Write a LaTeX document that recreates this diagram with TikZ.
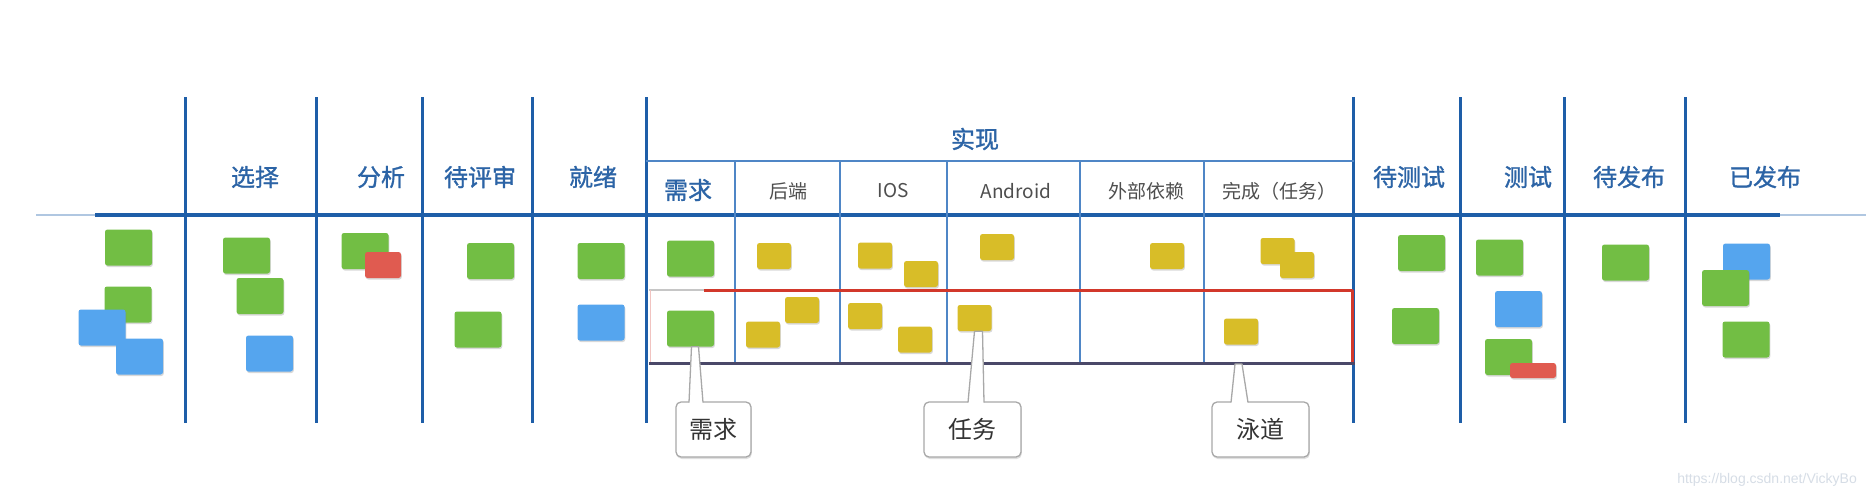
\documentclass[tikz,border=0pt]{standalone}
\usepackage{fontspec}
\newfontfamily\cjk{Noto Sans CJK SC}
\newfontfamily\cjkb[FakeBold=1.2]{Noto Sans CJK SC}
\setsansfont{Liberation Sans}
\usetikzlibrary{shadows,calc}
\definecolor{notegreen}{HTML}{72BE44}
\definecolor{noteblue}{HTML}{55A5EE}
\definecolor{noteyellow}{HTML}{D8BD28}
\definecolor{notered}{HTML}{E05B50}
\definecolor{headblue}{HTML}{2C64A6}
\definecolor{subgray}{HTML}{4E4E4E}
\definecolor{lineblue}{HTML}{1E5EA8}
\definecolor{subblue}{HTML}{4F86C6}
\definecolor{lanered}{HTML}{D2382B}
\definecolor{lanedark}{HTML}{4A4868}
\definecolor{calgray}{HTML}{A8A8A8}
\definecolor{caltext}{HTML}{333333}
\definecolor{wmgray}{HTML}{D6DDE6}
\tikzset{
  note/.style={rounded corners=2.5pt, inner sep=0pt, draw=none,
    drop shadow={shadow xshift=0.8pt, shadow yshift=-1.5pt, opacity=0.3}},
  gn/.style={note, fill=notegreen, minimum width=47pt, minimum height=36pt},
  bn/.style={note, fill=noteblue, minimum width=47pt, minimum height=36pt},
  yn/.style={note, fill=noteyellow, minimum width=34pt, minimum height=26pt},
  rn/.style={note, fill=notered, minimum width=36pt, minimum height=26pt},
  head/.style={font=\cjkb\fontsize{24}{28}\selectfont, text=headblue, inner sep=0pt},
  subhead/.style={font=\cjk\fontsize{19}{22}\selectfont, text=subgray, inner sep=0pt},
  callout/.style={draw=calgray, line width=1.3pt, fill=white, rounded corners=5pt,
    minimum height=55pt, inner sep=0pt, font=\cjk\fontsize{24}{28}\selectfont, text=caltext,
    drop shadow={shadow xshift=0.8pt, shadow yshift=-2pt, opacity=0.25}},
  vline/.style={draw=lineblue, line width=3pt},
  sline/.style={draw=subblue, line width=1.8pt},
  ptr/.style={draw=calgray, line width=1.3pt, fill=white, line join=round}
}
\begin{document}
\begin{tikzpicture}[x=1pt,y=-1pt]
\useasboundingbox (0,0) rectangle (1866,498);
\fill[white] (0,0) rectangle (1866,498);

% ---- grid lines ----
\foreach \x in {185,316.5,422,532,646,1353.5,1460,1564,1685.5}
  \draw[vline] (\x,97) -- (\x,423);
\draw[lineblue!35, line width=2.5pt] (36,215) -- (95,215);
\draw[lineblue, line width=3.5pt] (95,215) -- (1780,215);
\draw[lineblue!35, line width=2.5pt] (1780,215) -- (1866,215);
\draw[sline] (646,161) -- (1353.5,161);
\foreach \x in {735,840,947,1080,1204}
  \draw[sline] (\x,161) -- (\x,363);

% ---- swim lane ----
\draw[gray!45, line width=2.5pt] (649,290) -- (704,290);
\draw[lanered!30, line width=1pt] (650,290) -- (650,363);
\draw[lanered, line width=3pt, line join=round] (704,290) -- (1352,290) -- (1352,363);
\draw[lanedark, line width=3pt] (649,363) -- (1355,363);

% ---- headers ----
\node[head] (h1) at (255,177) {选择};
\node[head] (h2) at (381,177) {分析};
\node[head] (h3) at (480,177) {待评审};
\node[head] (h4) at (593,177) {就绪};
\node[head] (h5) at (975,139) {实现};
\node[head] (h6) at (1409,177) {待测试};
\node[head] (h7) at (1528,177) {测试};
\node[head] (h8) at (1629,177) {待发布};
\node[head] (h9) at (1765,177) {已发布};
\node[head] (s1) at (688,190) {需求};
\node[subhead] (s2) at (788,191) {后端};
\node[subhead] (s3) at (893,191) {IOS};
\node[subhead] (s4) at (1016,191) {Android};
\node[subhead] (s5) at (1146,191) {外部依赖};
\node[subhead] (s6) at (1279,191) {完成（任务）};

% ---- backlog ----
\node[gn] (a1) at (128.5,247.5) {};
\node[gn] (a2) at (128,304.5) {};
\node[bn] (a3) at (102,327.5) {};
\node[bn] (a4) at (139.5,356.5) {};
% 选择
\node[gn] (b1) at (246.5,255.5) {};
\node[gn] (b2) at (260,296) {};
\node[bn] (b3) at (269.5,353.5) {};
% 分析
\node[gn] (c1) at (365,251) {};
\node[rn] (c2) at (383,265) {};
% 待评审
\node[gn] (d1) at (490.5,261) {};
\node[gn] (d2) at (478,329.5) {};
% 就绪
\node[gn] (e1) at (601,261) {};
\node[bn] (e2) at (601,322.5) {};

% ---- 实现 row 1 ----
\node[gn] (p1) at (690.5,258.5) {};
\node[yn] (p2) at (774,256) {};
\node[yn] (p3) at (875,255.5) {};
\node[yn] (p4) at (921,274) {};
\node[yn] (p5) at (997,247) {};
\node[yn] (p6) at (1167,256) {};
\node[yn] (p7) at (1277.5,251) {};
\node[yn] (p8) at (1297,265) {};
% row 2 (lane)
\node[gn] (q1) at (690.5,328.5) {};
\node[yn] (q2) at (763,334.5) {};
\node[yn] (q3) at (802,310) {};
\node[yn] (q4) at (865,316) {};
\node[yn] (q5) at (915,339.5) {};
\node[yn] (q6) at (974.5,318) {};
\node[yn] (q7) at (1241,331.5) {};

% ---- 待测试 / 测试 / 待发布 / 已发布 ----
\node[gn] (f1) at (1421.5,253) {};
\node[gn] (f2) at (1415.5,326) {};
\node[gn] (g1) at (1499.5,257.5) {};
\node[bn] (g2) at (1518.5,309) {};
\node[gn] (g3) at (1508.5,357) {};
\node[note, fill=notered, minimum width=46pt, minimum height=15pt] (g4) at (1533,370.5) {};
\node[gn] (k1) at (1625.5,262.5) {};
\node[bn] (m1) at (1746.5,261.5) {};
\node[gn] (m2) at (1725.5,288) {};
\node[gn] (m3) at (1746,339.5) {};

% ---- callouts ----
\node[callout, minimum width=75pt] (x1) at (713.5,429.5) {需求};
\node[callout, minimum width=97pt] (x2) at (972.5,429.5) {任务};
\node[callout, minimum width=97pt] (x3) at (1260.5,429.5) {泳道};
\coordinate (t1) at ($(q1.south)+(4.5,0)$);
\coordinate (t2) at ($(q6.south)+(4,0)$);
\coordinate (t3) at (1238.5,364);
\fill[white] (689,403) -- ($(t1)+(-3.5,0)$) -- ($(t1)+(3.5,0)$) -- (703,403) -- cycle;
\draw[ptr, fill=none] (689,402.5) -- ($(t1)+(-3.5,0)$) -- ($(t1)+(3.5,0)$) -- (703,402.5);
\fill[white] (968,403) -- ($(t2)+(-4,0)$) -- ($(t2)+(4,0)$) -- (984,403) -- cycle;
\draw[ptr, fill=none] (968,402.5) -- ($(t2)+(-4,0)$) -- ($(t2)+(4,0)$) -- (984,402.5);
\fill[white] (1231,403) -- ($(t3)+(-3.5,0)$) -- ($(t3)+(3.5,0)$) -- (1248,403) -- cycle;
\draw[ptr, fill=none] (1231,402.5) -- ($(t3)+(-3.5,0)$) -- ($(t3)+(3.5,0)$) -- (1248,402.5);

% ---- watermark ----
\node[font=\sffamily\fontsize{14}{16}\selectfont, text=wmgray, anchor=east, inner sep=0pt] (wm) at (1857,480) {https://blog.csdn.net/VickyBo};
\end{tikzpicture}
\end{document}
